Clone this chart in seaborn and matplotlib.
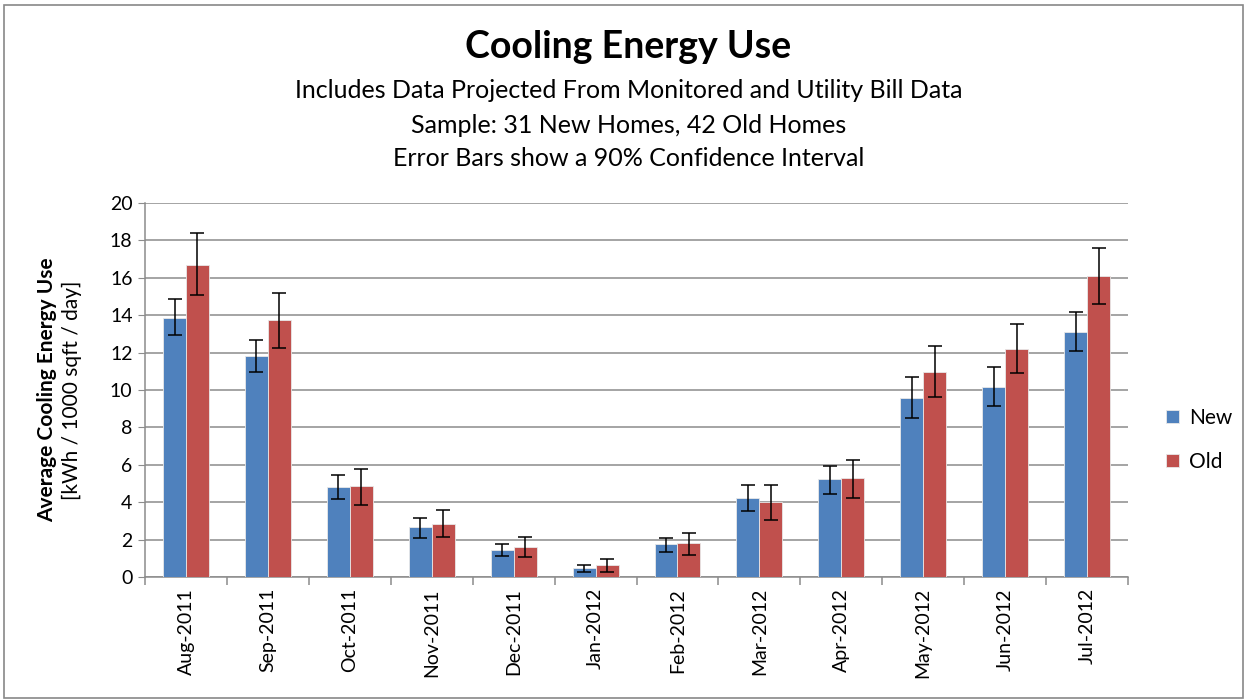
import matplotlib
matplotlib.use("Agg")
import matplotlib.pyplot as plt
from matplotlib.patches import Rectangle
from matplotlib.ticker import FixedLocator
import seaborn as sns
import pandas as pd
import numpy as np

months = ["Aug-2011", "Sep-2011", "Oct-2011", "Nov-2011", "Dec-2011", "Jan-2012",
          "Feb-2012", "Mar-2012", "Apr-2012", "May-2012", "Jun-2012", "Jul-2012"]

new_use = [13.85, 11.8, 4.8, 2.65, 1.45, 0.48, 1.75, 4.25, 5.22, 9.58, 10.17, 13.12]
new_low = [12.93, 10.95, 4.17, 2.08, 1.13, 0.29, 1.36, 3.52, 4.42, 8.49, 9.15, 12.09]
new_high = [14.84, 12.68, 5.43, 3.15, 1.77, 0.65, 2.08, 4.94, 5.96, 10.69, 11.24, 14.16]

old_use = [16.71, 13.72, 4.85, 2.82, 1.58, 0.63, 1.81, 4.01, 5.28, 10.96, 12.21, 16.11]
old_low = [15.08, 12.27, 3.87, 2.13, 1.06, 0.29, 1.18, 3.03, 4.24, 9.61, 10.89, 14.59]
old_high = [18.37, 15.20, 5.80, 3.58, 2.15, 0.95, 2.38, 4.94, 6.28, 12.34, 13.52, 17.60]

groups = ["New", "Old"]
colors = ["#4F81BD", "#C0504D"]

df = pd.DataFrame({
    "Month": months * 2,
    "Use": new_use + old_use,
    "Group": ["New"] * len(months) + ["Old"] * len(months),
})

plt.rcParams["font.family"] = ["Lato", "DejaVu Sans"]

fig = plt.figure(figsize=(12.47, 7.0), dpi=100)
fig.patches.append(Rectangle((0.003, 0.003), 0.994, 0.99, transform=fig.transFigure,
                             fill=False, edgecolor="#888888", linewidth=1.2))
ax = fig.add_axes([0.1163, 0.1757, 0.7883, 0.5343])

sns.barplot(data=df, x="Month", y="Use", hue="Group", hue_order=groups,
            palette=colors, width=0.56, ax=ax, errorbar=None, saturation=1,
            edgecolor="#e8e8e8", linewidth=0.6, zorder=3)

# error bars on top of each bar
lows = [new_low, old_low]
highs = [new_high, old_high]
for cont, vals, lo, hi in zip(ax.containers, [new_use, old_use], lows, highs):
    xs = [p.get_x() + p.get_width() / 2 for p in cont.patches]
    yerr = [np.array(vals) - np.array(lo), np.array(hi) - np.array(vals)]
    ax.errorbar(xs, vals, yerr=yerr, fmt="none", ecolor="black", elinewidth=1.1,
                capsize=5, capthick=1.1, zorder=4)

ax.set_ylim(0, 20)
ax.set_xlim(-0.5, len(months) - 0.5)
ax.set_yticks(range(0, 21, 2))
ax.yaxis.grid(True, color="#8c8c8c", linewidth=1.1, zorder=0)
ax.set_axisbelow(True)
ax.set_xlabel("")
ax.set_ylabel("")
for s in ["top", "right"]:
    ax.spines[s].set_visible(False)
for s in ["left", "bottom"]:
    ax.spines[s].set_color("#8c8c8c")
    ax.spines[s].set_linewidth(1.1)

ax.tick_params(axis="y", labelsize=14, length=5, color="#8c8c8c", pad=4)
ax.tick_params(axis="x", which="major", labelsize=14, length=0, pad=8, labelrotation=90)
ax.xaxis.set_minor_locator(FixedLocator(np.arange(-0.5, len(months), 1.0)))
ax.tick_params(axis="x", which="minor", length=6, color="#8c8c8c", width=1.1)

leg = ax.legend(loc="center left", bbox_to_anchor=(1.02, 0.366), frameon=False,
                fontsize=15, handlelength=0.6, handleheight=0.6, labelspacing=1.15,
                handletextpad=0.5)

fig.text(0.504, 0.933, "Cooling Energy Use", ha="center", va="center",
         fontsize=27, fontweight="bold")
fig.text(0.504, 0.871, "Includes Data Projected From Monitored and Utility Bill Data",
         ha="center", va="center", fontsize=18)
fig.text(0.504, 0.821, "Sample: 31 New Homes, 42 Old Homes",
         ha="center", va="center", fontsize=18)
fig.text(0.504, 0.774, "Error Bars show a 90% Confidence Interval",
         ha="center", va="center", fontsize=18)

fig.text(0.038, 0.443, "Average Cooling Energy Use", rotation=90, ha="center",
         va="center", fontsize=15, fontweight="bold")
fig.text(0.058, 0.443, "[kWh / 1000 sqft / day]", rotation=90, ha="center",
         va="center", fontsize=15)

fig.savefig("out.png", dpi=100)
